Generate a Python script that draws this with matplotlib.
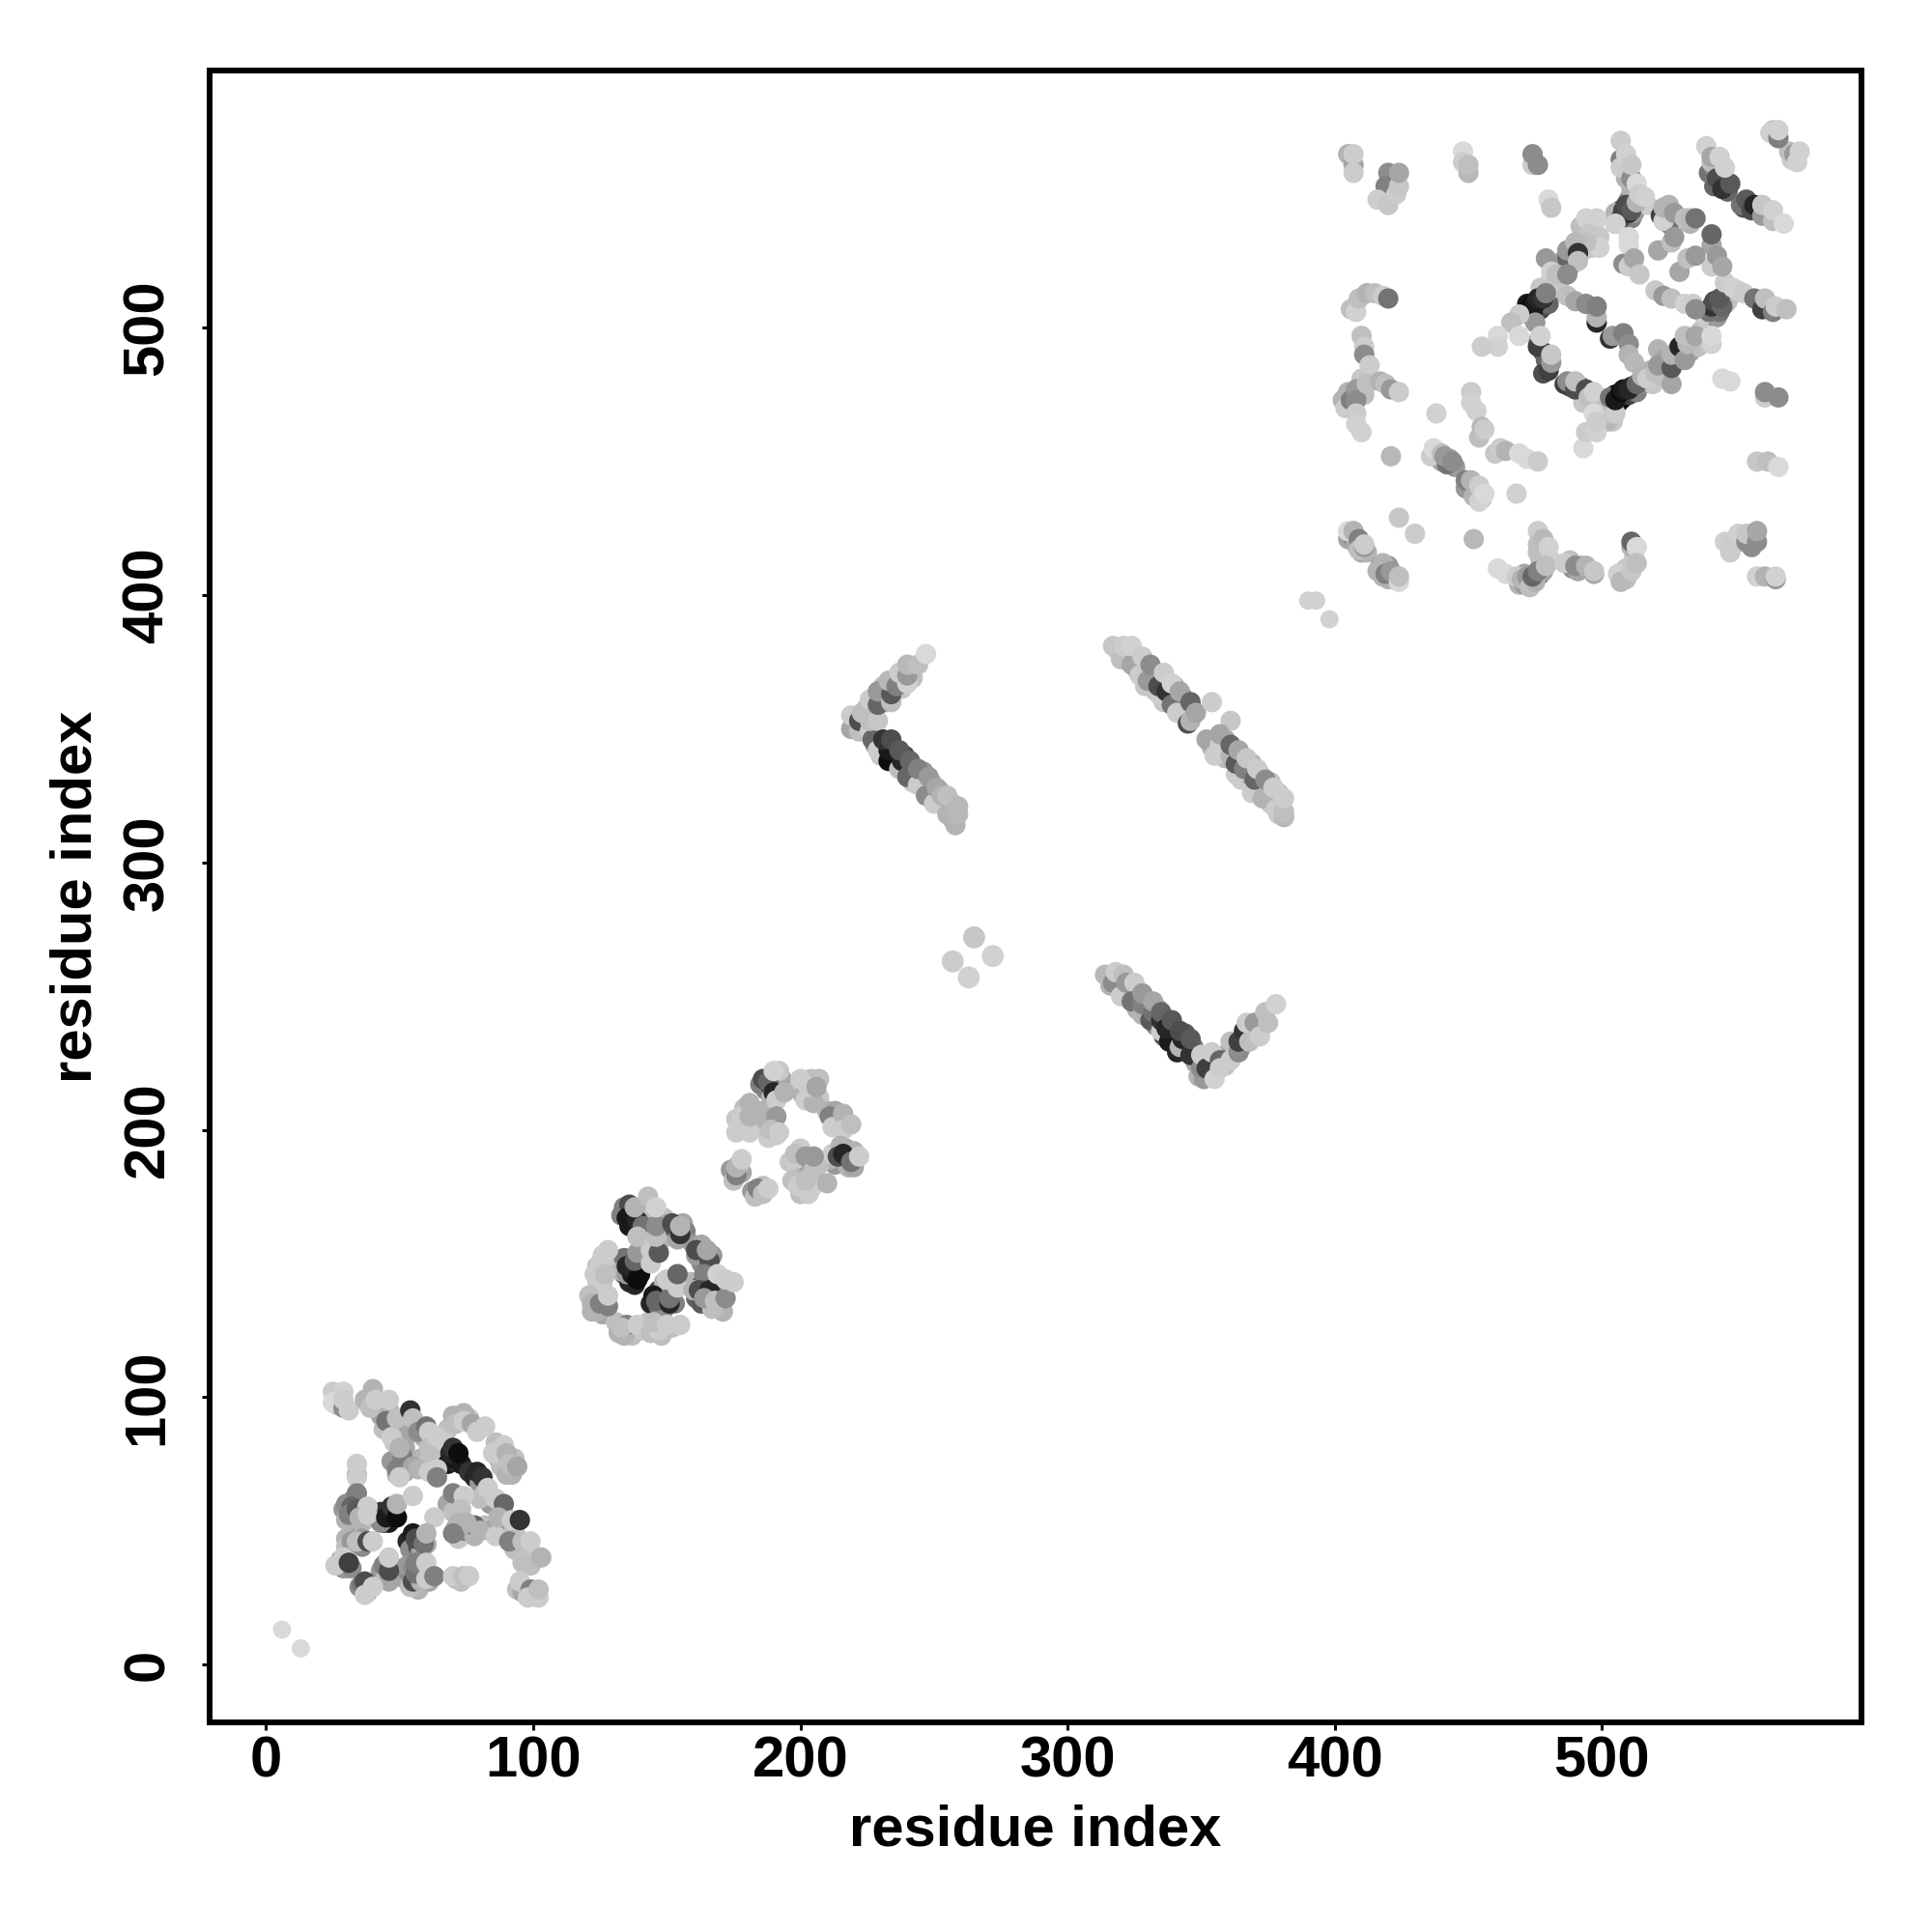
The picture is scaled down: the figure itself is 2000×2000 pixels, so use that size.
import matplotlib
matplotlib.use("Agg")
import matplotlib.pyplot as plt

# (residue i, residue j, grey level)
domain_a_under = [(27,100,.75),(27,97,.7),(38,98,.7),(43,97,.75),(43,93,.65),(44,88,.75),(46,95,.7),(48,88,.7),(48,83,.78),(52,91,.7),(53,86,.65),(52,81,.65),(53,76,.65),(47,76,.6),(49,71,.7),(52,72,.65),(59,85,.7),(58,77,.7),(63,82,.75),(66,79,.75),(60,75,.75),(62,78,.75),(68,75,.1),(71,76,.2),(73,75,.1),(76,72,.2),(78,70,.15),(80,68,.6),(82,64,.75),(84,60,.6),(80,62,.75),(68,88,.75),(76,92,.75),(70,93,.7),(86,83,.75),(87,77,.7),(92,71,.7),(93,77,.75),(88,74,.75),
(68,60,.65),(70,57,.75),(71,51,.7),(72,47,.78),(74,50,.5),(76,50,.5),(78,48,.7),(82,52,.75),(84,50,.65),(88,51,.7),(90,50,.6),(93,50,.75),(93,43,.75),(97,42,.75),(100,41,.78),(94,28,.75),(96,27,.65),(100,26,.75),
(29,58,.6),(30,60,.55),(32,53,.65),(33,55,.5),(33,62,.55),(36,57,.45),(36,53,.7),(40,55,.75),(43,57,.2),(44,53,.1),(46,53,.1),(47,56,.1),(43,53,.55),
(53,46,.15),(54,43,.55),(57,44,.3),(58,42,.65),(60,45,.65),(30,47,.7),(30,44,.75),(36,44,.55),(36,47,.6),(29,36,.5),(30,36,.6),(28,39,.55),(32,36,.55),(43,35,.6),(45,33,.75),(47,37,.45),(45,38,.5),(35,29,.55),(36,30,.45),(38,27,.7),(52,32,.65),(53,35,.55),(53,37,.6),(57,28,.7),(55,36,.55),(59,35,.55),(58,36,.7),(61,31,.65),(71,32,.75),(73,31,.75)]

domain_a = [(25,102,.8),(29,102,.82),(25,98,.85),(29,96,.55),(31,95,.8),(29,99,.8),
(40,103,.7),(37,99,.7),(39,96,.75),(41,99,.8),(45,91,.45),(46,99,.8),(47,85,.8),(49,92,.75),
(54,95,.2),(55,92,.75),(57,87,.55),(60,89,.45),(61,87,.8),(61,81,.75),(64,85,.8),(67,83,.8),
(70,77,.1),(69,79,.15),(70,81,.2),(72,79,.05),
(74,94,.7),(71,90,.75),(74,91,.8),(77,90,.65),(79,87,.8),(82,89,.8),
(89,82,.8),(85,79,.8),(90,79,.7),(90,71,.7),(91,75,.75),(94,74,.65),
(51,78,.5),(50,81,.7),(49,73,.5),(55,74,.65),(50,70,.8),(57,73,.7),(61,72,.8),(64,73,.8),(64,70,.5),
(34,71,.7),(34,70,.8),(34,75,.8),
(79,72,.15),(81,70,.2),(83,66,.8),(86,62,.8),
(70,64,.5),(74,63,.8),(73,58,.75),(78,52,.4),(72,53,.7),(75,53,.7),(70,49,.5),(80,50,.7),(86,48,.8),
(89,60,.4),(87,55,.7),(92,54,.8),(95,54,.2),(91,46,.5),(96,46,.75),(99,46,.8),(96,38,.75),(99,37,.75),(103,40,.7),
(95,31,.8),(99,28,.5),(98,25,.8),(102,25,.8),(102,28,.75),
(30,54,.7),(34,64,.5),(32,59,.4),(31,56,.5),(34,58,.35),(38,59,.8),(35,55,.7),(38,56,.8),
(45,55,.1),(47,59,.2),(49,55,.05),(49,60,.7),(55,63,.8),(63,55,.8),
(55,49,.1),(56,47,.3),(59,45,.45),(60,49,.7),(32,46,.6),(34,46,.75),(38,46,.3),(40,46,.8),
(29,40,.8),(26,37,.8),(31,38,.25),(44,37,.5),(46,31,.65),(46,35,.3),(46,40,.8),
(37,31,.3),(37,26,.8),(40,29,.8),
(54,29,.75),(55,31,.3),(58,31,.7),(56,34,.45),(56,38,.5),(60,38,.8),(60,32,.8),(63,33,.5),
(70,33,.8),(74,33,.75),(76,33,.8)]

domain_b_under = [(126,153,.8),(124,149,.75),(126,143,.78),(124,143,.8),(130,150,.78),(121,138,.75),(122,132,.7),(126,131,.65),(131,128,.75),(132,124,.7),(136,125,.6),(137,123,.75),(141,125,.78),(143,128,.75),(148,123,.75),(152,126,.75),
(144,135,.15),(147,134,.45),(149,133,.55),(147,140,.3),(148,139,.5),(153,135,.5),(152,140,.5),(149,143,.7),
(134,152,.45),(134,146,.3),(136,143,.15),(138,142,.15),(140,146,.05),(136,148,.05),(133,147,.7),(141,152,.65),(141,157,.78),
(134,171,.5),(133,168,.5),(136,164,.1),(136,172,.3),(137,167,.1),(139,169,.5),(141,167,.6),(142,172,.75),(143,160,.75),(142,158,.8),(143,165,.7),(149,167,.75),(149,162,.75),(150,160,.7),(148,165,.65),
(153,163,.35),(154,159,.65),(156,165,.65),(157,162,.5),
(160,157,.6),(163,157,.65),(163,150,.55),(164,152,.35),(167,153,.6),(162,143,.65),(159,143,.7),(161,137,.4),(163,135,.35),(165,136,.25),(167,138,.2),(169,139,.45),(163,142,.35),(170,134,.65),(171,132,.7),(167,133,.75)]

domain_b = [(125,150,.8),(123,146,.8),(127,146,.75),(128,155,.8),
(122,135,.7),(124,132,.7),(125,135,.5),(128,134,.5),(128,138,.8),
(134,123,.7),(135,127,.5),(133,126,.75),(139,127,.8),
(144,124,.75),(147,125,.8),(145,128,.75),(150,127,.8),(155,127,.8),
(145,138,.1),(146,136,.4),(151,135,.15),(151,137,.45),(154,141,.8),(150,144,.8),(154,146,.4),
(135,146,.6),(137,146,.1),(135,149,.15),(139,144,.05),(138,151,.4),(139,154,.6),(144,150,.8),(144,155,.8),(147,154,.35),
(137,170,.3),(135,167,.1),(139,166,.15),(138,171,.7),(141,164,.45),(143,175,.75),(139,160,.75),(146,160,.75),(146,164,.55),(146,171,.82),
(152,165,.3),(155,161,.2),(155,164,.7),
(161,153,.6),(161,155,.3),(166,151,.3),(165,155,.65),
(164,146,.5),(160,140,.7),(162,140,.3),(166,140,.15),(164,137,.6),(168,136,.75),(172,137,.55),(169,146,.82),(172,144,.8),(175,143,.8)]

domain_c_under = [(185,217,.5),(187,215,.5),(189,216,.2),(191,217,.5),(193,219,.65),(189,212,.7),(192,222,.78),(199,215,.8),(201,213,.7),(204,213,.75),(207,212,.78),(204,219,.75),(207,219,.75),
(210,207,.7),(213,207,.65),(214,203,.75),(217,203,.78),(213,187,.6),(217,189,.5),(217,193,.65),(218,186,.7),(211,189,.7),(220,192,.7),
(200,187,.7),(203,187,.65),(200,193,.8),(207,187,.75),(196,188,.78),(197,181,.75),(200,176,.75),(203,176,.8),(206,181,.78),
(185,204,.7),(186,207,.7),(190,202,.7),(191,198,.78),(188,197,.8),(176,204,.78),(176,199,.8),(179,208,.75),(180,203,.75),(183,201,.75),
(174,185,.6),(175,181,.75),(178,184,.65),(177,187,.78),(182,177,.6),(183,175,.75),(186,179,.75)]

domain_c = [(186,219,.3),(188,218,.4),(190,214,.15),(191,211,.8),(194,214,.7),(190,222,.82),
(200,219,.8),(202,211,.8),(205,210,.7),(203,216,.8),(206,216,.65),
(211,205,.5),(212,201,.8),(216,206,.7),(216,200,.8),(219,202,.75),
(212,191,.8),(215,194,.7),(214,190,.3),(216,191,.15),(220,186,.65),(219,188,.45),(222,190,.8),
(198,189,.8),(198,191,.75),(202,190,.6),(205,185,.75),(205,190,.6),
(199,179,.8),(204,178,.8),(202,181,.75),(210,180,.7),
(187,204,.7),(191,205,.6),(189,200,.75),(192,199,.8),
(178,205,.8),(178,201,.8),(181,199,.8),(181,205,.7),(181,210,.7),
(176,183,.5),(176,186,.7),(178,189,.8),(184,178,.5),(186,176,.75),(188,178,.8)]

strand_a_under = [(220,352,.7),(221,351,.6),(224,350,.75),(224,355,.45),(225,358,.7),(228,362,.55),(231,362,.65),(231,366,.75),(232,360,.7),(235,364,.65),(238,368,.65),(238,365,.78),(242,372,.75),(242,369,.75),
(228,344,.6),(230,340,.78),(232,341,.25),(232,345,.2),(235,338,.2),(236,340,.15),(235,343,.25),(239,335,.4),(239,340,.3),(242,330,.78),(242,336,.5),(243,333,.55),(245,332,.6),(246,328,.65),(246,334,.6),(249,325,.7),(249,330,.65),(252,323,.75),(252,327,.7),(254,321,.75),(256,320,.75),(257,316,.75),(257,322,.78)]

strand_a = [(219,350,.65),(219,355,.8),(222,349,.75),(222,353,.3),(223,356,.75),(226,349,.8),(226,361,.8),(227,346,.4),
(226,353,.75),(229,353,.78),(229,359,.4),(229,364,.6),(234,360,.75),(234,363,.35),(233,368,.72),(236,366,.5),
(237,371,.8),(240,367,.82),(240,370,.6),(240,374,.72),(244,374,.75),(247,378,.85),
(229,342,.8),(233,338,.05),(233,342,.1),(231,346,.2),(234,346,.3),(237,335,.75),(238,338,.15),(237,342,.35),
(240,332,.4),(241,338,.4),(244,329,.8),(244,335,.5),(247,325,.55),(248,332,.6),(250,322,.8),(251,328,.65),
(253,325,.7),(255,318,.7),(255,325,.75),(258,314,.7),(259,318,.72),(259,321,.72)]

strand_b_under = [(319,379,.78),(322,378,.75),(323,376,.75),(326,372,.75),(326,376,.7),(329,372,.65),(329,366,.78),(332,368,.6),(333,364,.78),(333,370,.65),(336,360,.78),(337,367,.55),(338,362,.65),(340,361,.65),(340,366,.65),(343,358,.7),(343,362,.55),(344,355,.7),(347,357,.65),
(354,343,.7),(355,346,.7),(359,343,.65),(359,346,.65),(359,339,.75),(362,338,.65),(365,337,.65),(365,331,.8),(368,333,.6),(369,337,.7),(372,329,.65),(372,333,.7),(375,326,.75),(376,330,.75),(376,322,.78),(379,323,.78),(379,326,.78),(379,318,.78)]

strand_b = [(317,381,.78),(320,376,.75),(321,381,.8),(324,374,.65),(324,381,.82),(327,370,.8),(328,377,.8),
(330,368,.6),(331,374,.55),(335,362,.8),(334,366,.3),(337,364,.2),(336,371,.8),(339,359,.45),(341,356,.8),(339,367,.82),
(342,364,.65),(345,352,.3),(346,353,.7),(346,360,.4),(348,356,.65),(354,360,.8),(361,353,.78),
(352,346,.65),(355,340,.8),(357,344,.8),(357,348,.65),(361,340,.7),(361,344,.4),(363,333,.8),(363,337,.35),
(364,342,.65),(366,335,.5),(367,339,.78),(369,326,.8),(370,331,.4),(371,335,.8),(373,324,.7),(374,331,.55),
(377,328,.8),(378,320,.8),(381,317,.72),(381,319,.75),(381,324,.8)]

strand_c_under = [(316,254,.7),(319,253,.75),(320,256,.7),(323,252,.7),(323,249,.65),(326,249,.6),(326,245,.7),(330,247,.6),(330,243,.55),(333,239,.55),(334,245,.6),(337,241,.35),(336,235,.35),(339,236,.2),(340,232,.35),(340,238,.25),(344,230,.35),(344,236,.35),(347,231,.45),(348,225,.65),(349,220,.7),(353,221,.65),(353,226,.7),(359,228,.65),(359,224,.75),(362,230,.55),(365,231,.65),(369,236,.75),(371,237,.7),(373,241,.75)]

strand_c = [(314,258,.72),(317,255,.55),(318,259,.8),(321,258,.75),(320,250,.8),(322,255,.6),(325,255,.8),
(324,248,.45),(328,243,.7),(328,247,.5),(328,251,.6),(331,241,.35),(332,244,.45),(332,248,.65),
(335,237,.8),(335,241,.2),(335,244,.4),(338,233,.1),(337,238,.15),(339,241,.35),(341,229,.15),(342,231,.7),(343,234,.15),(342,237,.3),
(346,228,.2),(346,234,.35),(351,219,.6),(350,223,.55),(350,228,.8),(352,223,.25),(354,229,.8),(355,219,.82),
(357,226,.4),(357,223,.8),(361,226,.8),(361,233,.75),(364,229,.55),(364,233,.25),(366,237,.2),(368,233,.75),
(367,240,.8),(370,240,.6),(372,235,.8),(375,240,.75),(374,244,.75),(378,247,.82)]

isolated_small = [(6,13,.85),(13,6,.85),(390,398,.82),(393,398,.82),(398,391,.82)]
isolated_large = [(265,272,.78),(272,265,.82),(257,263,.8),(263,257,.82)]

domain_d_under = [(472,506,.05),(472,509,.1),(473,505,.1),(474,509,.05),(475,506,.05),(476,508,.1),(477,510,.1),(477,507,.2),(478,508,.3),(480,512,.5),(480,509,.4),
(504,472,.1),(505,475,.05),(506,474,.05),(506,472,.05),(507,473,.1),(508,474,.05),(509,475,.1),(510,475,.25),(511,478,.15),(512,476,.3),(513,476,.5),(515,479,.55),(502,471,.6),
(505,539,.5),(506,542,.25),(507,544,.3),(508,540,.3),(509,542,.3),(511,541,.5),(512,543,.6),(505,543,.7),(510,548,.6),(512,550,.8),(517,546,.8),
(539,503,.75),(540,504,.6),(541,505,.35),(542,506,.3),(543,507,.3),(543,504,.6),(544,506,.45),(546,509,.6),(546,513,.8),(548,512,.8),(547,510,.75),(551,514,.82),
(488,523,.55),(489,530,.55),(488,526,.65),(492,531,.55),(493,529,.75),(496,530,.78),(497,538,.82),(492,538,.75),(484,517,.78),(485,525,.7),(481,518,.75),(477,515,.78),(484,524,.65),
(521,492,.7),(523,488,.65),(524,486,.45),(528,491,.55),(530,490,.7),(533,491,.65),(533,495,.75),(536,493,.75),(537,499,.78),(539,496,.78),(519,479,.78),(518,484,.7),(522,482,.75),(525,482,.78),
(478,491,.3),(479,488,.4),(478,483,.3),(476,495,.65),
(492,478,.4),(488,478,.35),(493,472,.78),(500,471,.75),(500,466,.75),(503,471,.75),(504,465,.78),
(513,547,.78),(510,558,.7),(509,560,.45),(509,556,.7),(513,552,.78),(511,552,.7),
(525,546,.7),(526,541,.75),(529,540,.78),(533,539,.7),(525,539,.45),
(542,553,.4),(540,558,.45),(542,560,.55),(544,558,.45),(547,551,.4),(541,562,.75),(555,546,.3),(553,545,.3),(558,544,.4),(562,542,.6),
(565,572,.7),(564,574,.78),(571,563,.8),(570,566,.75),
(404,474,.65),(405,472,.5),(406,471,.65),(407,475,.65),(407,470,.75),(409,475,.7),(410,477,.65),(411,475,.75),(410,481,.78),(413,480,.75),
(438,454,.75),(439,451,.65),(440,450,.65),(443,451,.65),(445,448,.6),(450,441,.6),(451,439,.65),(452,441,.7),(453,439,.7),(455,436,.78),
(405,421,.65),(407,421,.55),(408,419,.65),(410,416,.65),(412,416,.7),(417,411,.65),(420,411,.6),(418,407,.7),(420,406,.7),(422,406,.7),
(469,404,.7),(471,404,.6),(472,405,.45),(473,405,.5),(474,405,.5),(476,407,.45),(477,408,.45),(478,409,.65),(471,408,.65),(477,413,.75),(476,416,.75),(477,422,.7),
(489,410,.55),(491,409,.65),(492,411,.7),(488,413,.75),
(509,406,.75),(509,410,.78),(512,414,.78),(511,418,.7),(556,421,.65),(556,418,.55),(552,420,.7)]

domain_d_upper = [(405,565,.7),(407,561,.65),(407,558,.8),(407,565,.8),
(420,558,.55),(419,553,.5),(416,548,.8),(420,546,.78),(423,550,.8),(424,553,.78),(424,558,.65),
(448,566,.85),(448,562,.8),(450,558,.72),(450,561,.75),
(474,561,.8),(474,565,.55),(476,561,.55),(480,548,.85),(481,545,.78),
(406,507,.75),(408,506,.82),(409,511,.75),(412,513,.7),(415,513,.75),(418,512,.8),(420,511,.45),
(410,497,.75),(411,493,.8),(411,490,.55),(413,486,.8),
(403,473,.7),(404,470,.8),(405,476,.7),(406,473,.5),(408,477,.6),(408,473,.55),(408,468,.8),(408,464,.82),(410,461,.82),
(412,479,.75),(417,480,.7),(419,479,.75),(421,477,.6),(424,476,.8),
(438,468,.82),(451,476,.8),(451,472,.82),(453,469,.82),(454,459,.75),(455,463,.72),(456,462,.8),
(460,453,.78),(462,455,.8),(464,454,.7),(469,453,.85),(472,451,.85),(476,450,.8),
(421,452,.72),(436,452,.8),(437,455,.85),(440,453,.75),(442,449,.45),(441,452,.6),(444,450,.55),
(449,440,.6),(449,443,.5),(451,443,.7),(452,437,.7),(454,435,.82),(454,441,.8),(456,438,.85),(468,438,.82),
(558,450,.78),(562,450,.75),(566,448,.85),
(424,429,.78),(430,423,.8),(452,421,.72),
(405,424,.85),(407,424,.7),(409,421,.5),(409,417,.75),(411,418,.6),(411,419,.8),
(416,409,.7),(418,412,.7),(419,408,.5),(421,409,.6),(424,405,.85),(424,407,.75),
(476,424,.8),(476,419,.75),(478,421,.72),(480,418,.82),(481,413,.82),
(461,410,.85),(464,408,.85),(468,407,.8),(470,406,.7),(472,407,.6),(473,403,.75),(475,405,.7),(474,407,.4),(476,409,.5),(479,411,.75),
(486,412,.8),(490,411,.55),(494,411,.7),(497,408,.65),(497,409,.78),
(511,420,.4),(513,418,.85),(506,408,.82),(507,405,.72),(511,409,.78),(513,412,.75),
(546,420,.82),(548,416,.8),(548,419,.8),(551,423,.82),(554,420,.55),(554,423,.78),(558,420,.55),(558,424,.65),
(558,407,.82),(561,407,.7),(565,406,.6),(565,407,.82)]

domain_d_core = [(507,563,.5),(507,560,.8),(507,570,.8),(509,565,.82),(511,556,.55),(511,561,.78),(513,554,.85),
(507,541,.3),(510,543,.2),(508,544,.25),(509,546,.3),(511,544,.35),(513,547,.7),(514,550,.8),(516,549,.82),
(522,542,.25),(523,540,.82),(523,545,.7),(527,543,.6),(531,541,.75),(533,541,.72),(535,541,.45),
(494,541,.82),(498,541,.82),(505,539,.82),(495,535,.78),(499,534,.78),(499,530,.82),(494,532,.75),
(487,526,.4),(487,529,.6),(490,532,.72),(491,528,.2),(491,525,.75),
(479,526,.6),(481,521,.82),(482,515,.78),(483,520,.75),(487,520,.55),
(474,506,.1),(473,508,.05),(475,509,.1),(476,511,.15),(478,511,.2),(479,513,.5),(475,502,.6),
(469,505,.8),(466,502,.75),(469,497,.85),(461,497,.85),(461,493,.82),(455,493,.8),
(476,493,.25),(480,484,.25),(481,487,.6),(481,490,.78),(477,497,.82),
(487,512,.75),(490,510,.65),(498,502,.15),(498,504,.7),(494,509,.55),(498,508,.5),
(503,496,.2),(504,497,.6),(508,498,.5),(510,494,.55),(510,490,.7),(512,487,.72),
(486,479,.25),(487,480,.55),(490,477,.3),(490,480,.75),(494,477,.3),(495,474,.75),(497,476,.82),
(502,465,.72),(502,468,.75),(497,468,.85),(505,468,.8),(493,455,.85),(494,461,.8),(498,461,.82),(498,465,.8),
(503,474,.45),(505,473,.1),(507,476,.05),(508,477,.1),(510,477,.15),(513,479,.4),(515,482,.7),(517,481,.8),
(520,483,.75),(521,486,.6),(526,479,.65),(526,485,.35),(526,490,.7),(529,493,.15),(531,488,.6),(532,494,.72),
(531,497,.75),(535,497,.65),(541,494,.82),(541,497,.85),
(538,505,.8),(540,506,.45),(541,508,.2),(542,510,.3),(545,508,.4),(544,511,.35),(546,517,.8),(549,515,.82),(553,513,.8),
(541,523,.8),(541,531,.65),(541,535,.4),(543,527,.6),(545,523,.65),
(529,521,.65),(532,526,.75),(535,527,.6),(521,529,.65),(526,532,.75),(527,534,.6),
(508,524,.55),(510,534,.85),(510,531,.85),(510,523,.8),(512,526,.65),(514,520,.78),
(520,514,.78),(523,512,.6),(526,511,.75),(531,509,.82),(534,509,.8),(535,507,.55),
(557,511,.45),(560,507,.25),(561,511,.75),(564,506,.5),(565,508,.8),(569,507,.75),
(539,568,.82),(541,564,.65),(543,556,.3),(545,552,.2),(548,554,.35),(544,564,.82),(546,560,.82),
(552,546,.45),(554,548,.35),(556,544,.3),(557,546,.15),(560,542,.6),(560,546,.78),(564,540,.75),(564,544,.82),(568,539,.85),
(563,573,.82),(566,571,.5),(566,574,.82),(572,565,.6),(574,566,.82),(573,562,.82),
(545,481,.85),(548,480,.85),(561,474,.8),(561,476,.55),(566,474,.55)]

x_ticks = [0, 100, 200, 300, 400, 500]
y_ticks = [0, 100, 200, 300, 400, 500]
x_label = "residue index"
y_label = "residue index"

FONT = "Liberation Sans"
fig = plt.figure(figsize=(20, 20), dpi=100, facecolor="white")
ax = fig.add_axes([217/2000, 1 - 1783/2000, (1927-217)/2000, (1783-73)/2000])


def draw(points, size):
    xs = [p[0] for p in points]
    ys = [p[1] for p in points]
    gs = [str(p[2]) for p in points]
    ax.scatter(xs, ys, s=size, c=gs, linewidths=0)


for group in (domain_a_under, domain_b_under, domain_c_under, strand_a_under,
              strand_b_under, strand_c_under, domain_d_under,
              domain_a, domain_b, domain_c, strand_a, strand_b, strand_c,
              domain_d_upper, domain_d_core):
    draw(group, 230)
draw(isolated_small, 185)
draw(isolated_large, 270)

ax.set_xlim(-21.1, 597.1)
ax.set_ylim(-21.7, 596.3)
ax.set_xticks(x_ticks)
ax.set_yticks(y_ticks)
for s in ax.spines.values():
    s.set_linewidth(4.3)
ax.tick_params(axis="both", length=6, width=2.2, pad=3.5)
ax.tick_params(axis="y", pad=20)
for lab in ax.get_xticklabels():
    lab.set(fontfamily=FONT, fontweight="bold", fontsize=43)
for lab in ax.get_yticklabels():
    lab.set(fontfamily=FONT, fontweight="bold", fontsize=43, rotation=90, va="center")
ax.set_xlabel(x_label, fontfamily=FONT, fontweight="bold", fontsize=43, labelpad=12)
ax.set_ylabel(y_label, fontfamily=FONT, fontweight="bold", fontsize=43, labelpad=14)
fig.savefig("out.png", dpi=100, facecolor="white")
